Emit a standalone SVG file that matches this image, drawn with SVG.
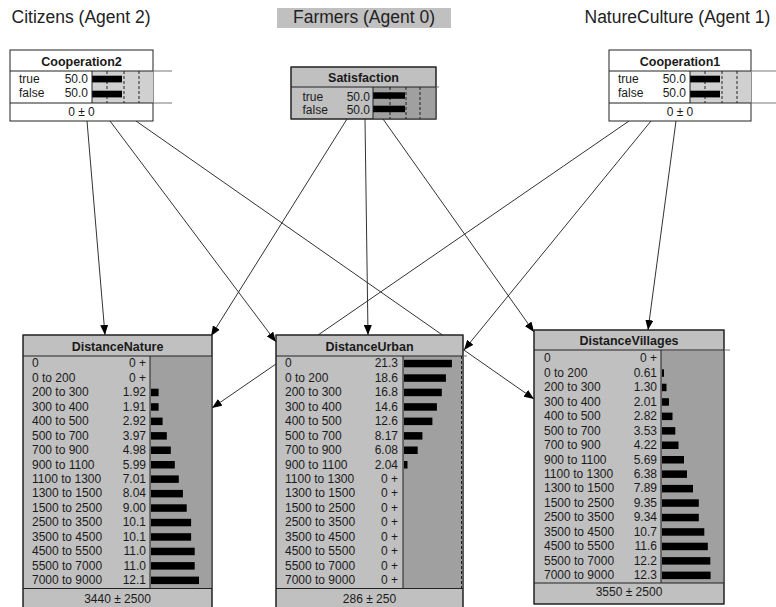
<svg xmlns="http://www.w3.org/2000/svg" width="776" height="607" viewBox="0 0 776 607">
<defs>
<marker id="ah" viewBox="0 0 10 8" refX="10" refY="4" markerWidth="10" markerHeight="8" markerUnits="userSpaceOnUse" orient="auto">
<path d="M0,0 L10,4 L0,8 z" fill="#000"/>
</marker>
<style>
text{font-family:"Liberation Sans",Arial,sans-serif;font-size:12px;fill:#1a1a1a}
.hdr{font-size:17.5px;fill:#222}
.ttl{font-weight:bold;font-size:12.5px;text-anchor:middle}
.v{text-anchor:end}
.m{text-anchor:middle}
.bx{stroke:#222;stroke-width:1}
.ln{stroke:#222;stroke-width:1;fill:none}
.ext{stroke:#777;stroke-width:1;fill:none}
.dsh{stroke:#222;stroke-width:1;stroke-dasharray:3,2}
.bar{fill:#000}
.edge{stroke:#333;stroke-width:1;fill:none;marker-end:url(#ah)}
.lg{fill:#c0c0c0}
.dg{fill:#a0a0a0}
.xg{fill:#d0d0d0}
</style>
</defs>

<g id="headers">
<text class="hdr" x="11.5" y="23">Citizens (Agent 2)</text>
<rect x="277" y="8" width="174" height="20" fill="#c0c0c0"/>
<text class="hdr m" x="364" y="23">Farmers (Agent 0)</text>
<text class="hdr" x="584.5" y="23">NatureCulture (Agent 1)</text>
</g>

<g id="connectors">
<line class="edge" x1="87" y1="121" x2="105" y2="335"/>
<line class="edge" x1="110" y1="121" x2="276" y2="342"/>
<line class="edge" x1="136" y1="121" x2="534" y2="399"/>
<line class="edge" x1="347" y1="119" x2="211" y2="336"/>
<line class="edge" x1="365" y1="119" x2="368" y2="335"/>
<line class="edge" x1="383" y1="119" x2="534" y2="332"/>
<line class="edge" x1="629" y1="121" x2="212" y2="408"/>
<line class="edge" x1="651" y1="121" x2="464" y2="350"/>
<line class="edge" x1="676" y1="121" x2="648" y2="330"/>
</g>

<g id="Cooperation2" transform="translate(10,50)">
<rect x="0" y="0" width="143" height="71" fill="#fff" class="bx"/>
<rect x="82" y="21" width="61" height="32" class="xg"/>
<line class="dsh" x1="97" y1="21" x2="97" y2="53"/>
<line class="dsh" x1="114" y1="21" x2="114" y2="53"/>
<line class="dsh" x1="129" y1="21" x2="129" y2="53"/>
<rect class="bar" x="82" y="25.7" width="30" height="6.7"/>
<rect class="bar" x="82" y="40.7" width="30" height="6.7"/>
<line class="ln" x1="0" y1="21" x2="143" y2="21"/>
<line class="ln" x1="0" y1="53" x2="143" y2="53"/>
<line class="ext" x1="143" y1="21" x2="162" y2="21"/>
<line class="ext" x1="143" y1="53" x2="162" y2="53"/>
<line class="ln" x1="82" y1="21" x2="82" y2="53"/>
<text class="ttl" x="71.5" y="16">Cooperation2</text>
<text x="9" y="32.5">true</text><text class="v" x="78" y="32.5">50.0</text>
<text x="9" y="46.5">false</text><text class="v" x="78" y="46.5">50.0</text>
<text class="m" x="71.5" y="66">0 ± 0</text>
</g>

<g id="Satisfaction" transform="translate(291,67)">
<rect x="0" y="0" width="145" height="52" class="lg bx"/>
<rect x="82" y="20" width="63" height="32" class="dg"/>
<line class="dsh" x1="99" y1="20" x2="99" y2="52"/>
<line class="dsh" x1="115" y1="20" x2="115" y2="52"/>
<line class="dsh" x1="129" y1="20" x2="129" y2="52"/>
<rect class="bar" x="82" y="25.3" width="32" height="6.5"/>
<rect class="bar" x="82" y="38.7" width="32" height="6.5"/>
<rect x="0" y="0" width="145" height="52" fill="none" class="bx"/>
<line class="ln" x1="0" y1="20" x2="145" y2="20"/>
<line class="ext" x1="145" y1="20" x2="148" y2="20"/>
<line class="ln" x1="82" y1="20" x2="82" y2="52"/>
<text class="ttl" x="72.5" y="14.5">Satisfaction</text>
<text x="11.5" y="34">true</text><text class="v" x="79" y="34">50.0</text>
<text x="11.5" y="46.5">false</text><text class="v" x="79" y="46.5">50.0</text>
</g>

<g id="Cooperation1" transform="translate(609,50)">
<rect x="0" y="0" width="142" height="71" fill="#fff" class="bx"/>
<rect x="81" y="21" width="61" height="32" class="xg"/>
<line class="dsh" x1="96" y1="21" x2="96" y2="53"/>
<line class="dsh" x1="113" y1="21" x2="113" y2="53"/>
<line class="dsh" x1="128" y1="21" x2="128" y2="53"/>
<rect class="bar" x="81" y="25.7" width="30" height="6.7"/>
<rect class="bar" x="81" y="40.7" width="30" height="6.7"/>
<line class="ln" x1="0" y1="21" x2="142" y2="21"/>
<line class="ln" x1="0" y1="53" x2="142" y2="53"/>
<line class="ext" x1="142" y1="21" x2="167" y2="21"/>
<line class="ext" x1="142" y1="53" x2="167" y2="53"/>
<line class="ln" x1="81" y1="21" x2="81" y2="53"/>
<text class="ttl" x="71" y="16">Cooperation1</text>
<text x="9" y="32.5">true</text><text class="v" x="77" y="32.5">50.0</text>
<text x="9" y="46.5">false</text><text class="v" x="77" y="46.5">50.0</text>
<text class="m" x="71" y="66">0 ± 0</text>
</g>

<g id="DistanceNature" transform="translate(23,335)">
<rect x="0" y="0" width="189" height="274" class="lg bx"/>
<rect x="127" y="21" width="62" height="232.5" class="dg"/>
<g class="bar">
<rect x="128" y="53.7" width="7.6" height="7.5"/>
<rect x="128" y="68.2" width="7.6" height="7.5"/>
<rect x="128" y="82.6" width="11.6" height="7.5"/>
<rect x="128" y="97.1" width="15.8" height="7.5"/>
<rect x="128" y="111.5" width="19.8" height="7.5"/>
<rect x="128" y="126" width="23.8" height="7.5"/>
<rect x="128" y="140.4" width="27.8" height="7.5"/>
<rect x="128" y="154.9" width="31.9" height="7.5"/>
<rect x="128" y="169.3" width="35.7" height="7.5"/>
<rect x="128" y="183.8" width="40.1" height="7.5"/>
<rect x="128" y="198.2" width="40.1" height="7.5"/>
<rect x="128" y="212.7" width="43.7" height="7.5"/>
<rect x="128" y="227.1" width="43.7" height="7.5"/>
<rect x="128" y="241.6" width="48" height="7.5"/>
</g>
<rect x="0" y="0" width="189" height="274" fill="none" class="bx"/>
<line class="ln" x1="0" y1="21" x2="189" y2="21"/>
<line class="ln" x1="0" y1="253.5" x2="189" y2="253.5"/>
<line class="ln" x1="127" y1="21" x2="127" y2="253.5"/>
<text class="ttl" x="94.5" y="15.5">DistanceNature</text>
<text x="9" y="32.3">0</text><text class="v" x="123" y="32.3">0 +</text>
<text x="9" y="46.8">0 to 200</text><text class="v" x="123" y="46.8">0 +</text>
<text x="9" y="61.2">200 to 300</text><text class="v" x="123" y="61.2">1.92</text>
<text x="9" y="75.7">300 to 400</text><text class="v" x="123" y="75.7">1.91</text>
<text x="9" y="90.1">400 to 500</text><text class="v" x="123" y="90.1">2.92</text>
<text x="9" y="104.6">500 to 700</text><text class="v" x="123" y="104.6">3.97</text>
<text x="9" y="119">700 to 900</text><text class="v" x="123" y="119">4.98</text>
<text x="9" y="133.5">900 to 1100</text><text class="v" x="123" y="133.5">5.99</text>
<text x="9" y="147.9">1100 to 1300</text><text class="v" x="123" y="147.9">7.01</text>
<text x="9" y="162.4">1300 to 1500</text><text class="v" x="123" y="162.4">8.04</text>
<text x="9" y="176.8">1500 to 2500</text><text class="v" x="123" y="176.8">9.00</text>
<text x="9" y="191.3">2500 to 3500</text><text class="v" x="123" y="191.3">10.1</text>
<text x="9" y="205.7">3500 to 4500</text><text class="v" x="123" y="205.7">10.1</text>
<text x="9" y="220.2">4500 to 5500</text><text class="v" x="123" y="220.2">11.0</text>
<text x="9" y="234.6">5500 to 7000</text><text class="v" x="123" y="234.6">11.0</text>
<text x="9" y="249.1">7000 to 9000</text><text class="v" x="123" y="249.1">12.1</text>
<text class="m" x="94.5" y="268">3440 ± 2500</text>
</g>

<g id="DistanceUrban" transform="translate(276,335)">
<rect x="0" y="0" width="187" height="274" class="lg bx"/>
<rect x="127" y="21" width="60" height="232.5" class="dg"/>
<line class="dsh" x1="185.5" y1="21" x2="185.5" y2="253.5"/>
<g class="bar">
<rect x="128" y="24.8" width="47.9" height="7.5"/>
<rect x="128" y="39.3" width="41.9" height="7.5"/>
<rect x="128" y="53.7" width="37.8" height="7.5"/>
<rect x="128" y="68.2" width="32.9" height="7.5"/>
<rect x="128" y="82.6" width="28.4" height="7.5"/>
<rect x="128" y="97.1" width="18.4" height="7.5"/>
<rect x="128" y="111.5" width="13.7" height="7.5"/>
<rect x="128" y="126" width="3.5" height="7.5"/>
</g>
<rect x="0" y="0" width="187" height="274" fill="none" class="bx"/>
<line class="ln" x1="0" y1="21" x2="187" y2="21"/>
<line class="ext" x1="187" y1="21" x2="191" y2="21"/>
<line class="ln" x1="0" y1="253.5" x2="187" y2="253.5"/>
<line class="ln" x1="127" y1="21" x2="127" y2="253.5"/>
<text class="ttl" x="93.5" y="15.5">DistanceUrban</text>
<text x="9" y="32.3">0</text><text class="v" x="122" y="32.3">21.3</text>
<text x="9" y="46.8">0 to 200</text><text class="v" x="122" y="46.8">18.6</text>
<text x="9" y="61.2">200 to 300</text><text class="v" x="122" y="61.2">16.8</text>
<text x="9" y="75.7">300 to 400</text><text class="v" x="122" y="75.7">14.6</text>
<text x="9" y="90.1">400 to 500</text><text class="v" x="122" y="90.1">12.6</text>
<text x="9" y="104.6">500 to 700</text><text class="v" x="122" y="104.6">8.17</text>
<text x="9" y="119">700 to 900</text><text class="v" x="122" y="119">6.08</text>
<text x="9" y="133.5">900 to 1100</text><text class="v" x="122" y="133.5">2.04</text>
<text x="9" y="147.9">1100 to 1300</text><text class="v" x="122" y="147.9">0 +</text>
<text x="9" y="162.4">1300 to 1500</text><text class="v" x="122" y="162.4">0 +</text>
<text x="9" y="176.8">1500 to 2500</text><text class="v" x="122" y="176.8">0 +</text>
<text x="9" y="191.3">2500 to 3500</text><text class="v" x="122" y="191.3">0 +</text>
<text x="9" y="205.7">3500 to 4500</text><text class="v" x="122" y="205.7">0 +</text>
<text x="9" y="220.2">4500 to 5500</text><text class="v" x="122" y="220.2">0 +</text>
<text x="9" y="234.6">5500 to 7000</text><text class="v" x="122" y="234.6">0 +</text>
<text x="9" y="249.1">7000 to 9000</text><text class="v" x="122" y="249.1">0 +</text>
<text class="m" x="93.5" y="268">286 ± 250</text>
</g>

<g id="DistanceVillages" transform="translate(534,330)">
<rect x="0" y="0" width="190" height="274" class="lg bx"/>
<rect x="127" y="21" width="63" height="232" class="dg"/>
<g class="bar">
<rect x="128" y="39.3" width="2" height="7.5"/>
<rect x="128" y="53.7" width="4.5" height="7.5"/>
<rect x="128" y="68.2" width="7" height="7.5"/>
<rect x="128" y="82.6" width="10.5" height="7.5"/>
<rect x="128" y="97.1" width="13.3" height="7.5"/>
<rect x="128" y="111.5" width="16.5" height="7.5"/>
<rect x="128" y="126" width="22" height="7.5"/>
<rect x="128" y="140.4" width="25" height="7.5"/>
<rect x="128" y="154.9" width="31" height="7.5"/>
<rect x="128" y="169.3" width="36.8" height="7.5"/>
<rect x="128" y="183.8" width="36.8" height="7.5"/>
<rect x="128" y="198.2" width="42.3" height="7.5"/>
<rect x="128" y="212.7" width="45.8" height="7.5"/>
<rect x="128" y="227.1" width="48.3" height="7.5"/>
<rect x="128" y="241.6" width="48.6" height="7.5"/>
</g>
<rect x="0" y="0" width="190" height="274" fill="none" class="bx"/>
<line class="ln" x1="0" y1="20" x2="190" y2="20"/>
<line class="ext" x1="190" y1="20" x2="196" y2="20"/>
<line class="ln" x1="0" y1="253" x2="190" y2="253"/>
<line class="ln" x1="127" y1="20" x2="127" y2="253"/>
<text class="ttl" x="95" y="15">DistanceVillages</text>
<text x="10" y="32.3">0</text><text class="v" x="123" y="32.3">0 +</text>
<text x="10" y="46.8">0 to 200</text><text class="v" x="123" y="46.8">0.61</text>
<text x="10" y="61.2">200 to 300</text><text class="v" x="123" y="61.2">1.30</text>
<text x="10" y="75.7">300 to 400</text><text class="v" x="123" y="75.7">2.01</text>
<text x="10" y="90.1">400 to 500</text><text class="v" x="123" y="90.1">2.82</text>
<text x="10" y="104.6">500 to 700</text><text class="v" x="123" y="104.6">3.53</text>
<text x="10" y="119">700 to 900</text><text class="v" x="123" y="119">4.22</text>
<text x="10" y="133.5">900 to 1100</text><text class="v" x="123" y="133.5">5.69</text>
<text x="10" y="147.9">1100 to 1300</text><text class="v" x="123" y="147.9">6.38</text>
<text x="10" y="162.4">1300 to 1500</text><text class="v" x="123" y="162.4">7.89</text>
<text x="10" y="176.8">1500 to 2500</text><text class="v" x="123" y="176.8">9.35</text>
<text x="10" y="191.3">2500 to 3500</text><text class="v" x="123" y="191.3">9.34</text>
<text x="10" y="205.7">3500 to 4500</text><text class="v" x="123" y="205.7">10.7</text>
<text x="10" y="220.2">4500 to 5500</text><text class="v" x="123" y="220.2">11.6</text>
<text x="10" y="234.6">5500 to 7000</text><text class="v" x="123" y="234.6">12.2</text>
<text x="10" y="249.1">7000 to 9000</text><text class="v" x="123" y="249.1">12.3</text>
<text class="m" x="95" y="266">3550 ± 2500</text>
</g>
</svg>
